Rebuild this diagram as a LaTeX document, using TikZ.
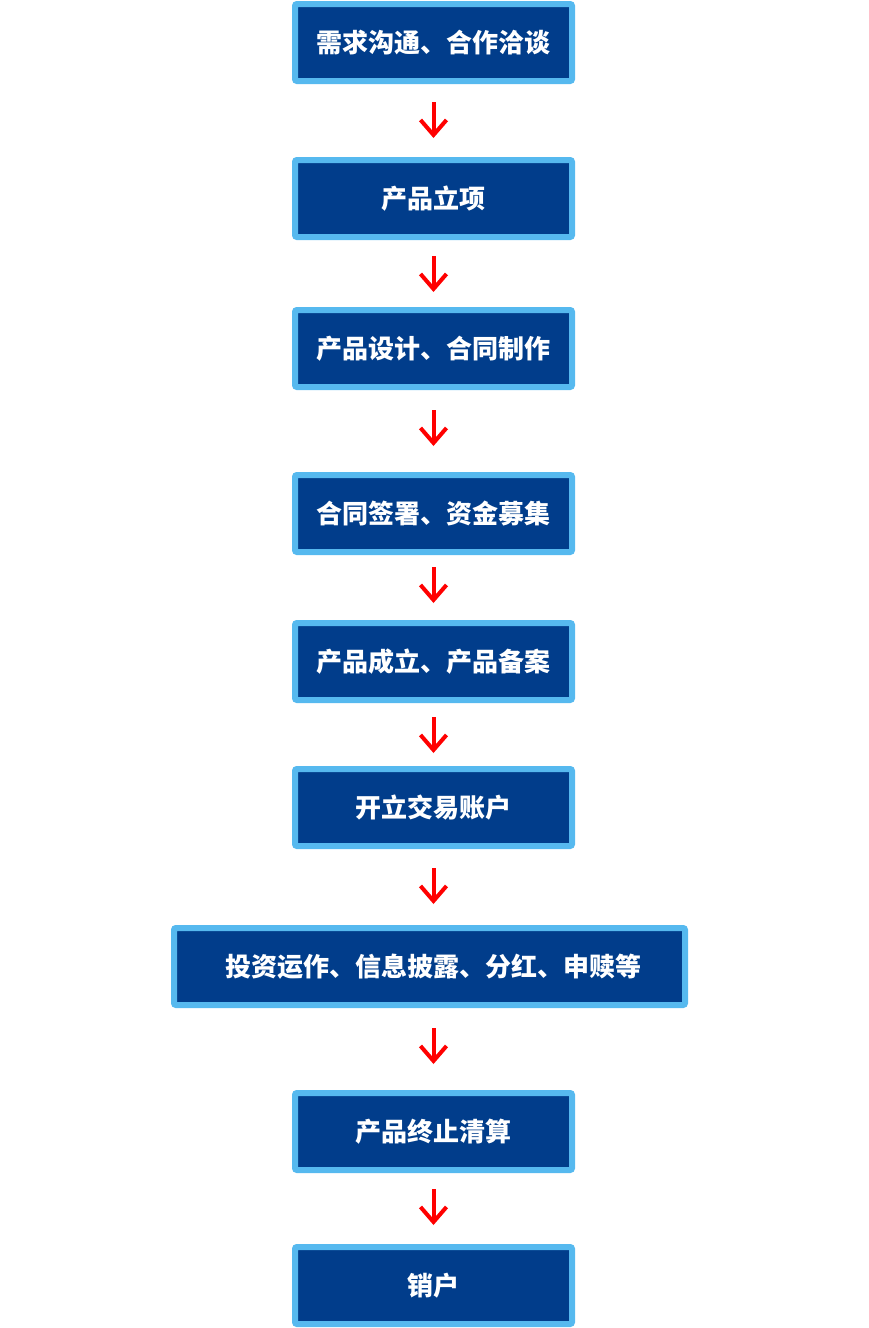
\documentclass[tikz,border=0pt]{standalone}
\usepackage{fontspec}
\newfontfamily\cjk{Noto Sans CJK SC}
\usetikzlibrary{arrows.meta}
\definecolor{rimblue}{RGB}{86,185,239}
\definecolor{coreblue}{RGB}{1,61,139}
\definecolor{arrred}{RGB}{255,0,0}
\begin{document}
\begin{tikzpicture}[x=1pt,y=1pt,
  stepbox/.style={draw=rimblue, fill=coreblue, line width=6pt, rounded corners=2pt,
    minimum width=277pt, minimum height=77pt, inner sep=0pt,
    text=white, font=\cjk\bfseries\fontsize{26pt}{30pt}\selectfont},
  widebox/.style={stepbox, minimum width=511pt},
  flow/.style={draw=arrred, line width=4pt, -{Straight Barb[length=15pt,width=26pt]}}]
\useasboundingbox (0,0) rectangle (868,-1328);
\node[stepbox] (n1) at (433.5,-42.5) {需求沟通、合作洽谈};
\node[stepbox] (n2) at (433.5,-198.5) {产品立项};
\node[stepbox] (n3) at (433.5,-348.5) {产品设计、合同制作};
\node[stepbox] (n4) at (433.5,-513.5) {合同签署、资金募集};
\node[stepbox] (n5) at (433.5,-661.5) {产品成立、产品备案};
\node[stepbox] (n6) at (433.5,-807.5) {开立交易账户};
\node[widebox] (n7) at (429.5,-966.5) {\hspace*{8pt}投资运作、信息披露、分红、申赎等};
\node[stepbox] (n8) at (433.5,-1131.5) {产品终止清算};
\node[stepbox] (n9) at (433.5,-1285.5) {销户};
\foreach \a/\b/\s/\t in {n1/n2/18/19, n2/n3/16/15, n3/n4/20/26, n4/n5/12/17,
    n5/n6/14/13, n6/n7/19/21, n7/n8/20/26, n8/n9/16/19}{
  \draw[flow, shorten <=\s pt, shorten >=\t pt] (\a.south -| n1.south) -- (\b.north -| n1.north);
}
\end{tikzpicture}
\end{document}
